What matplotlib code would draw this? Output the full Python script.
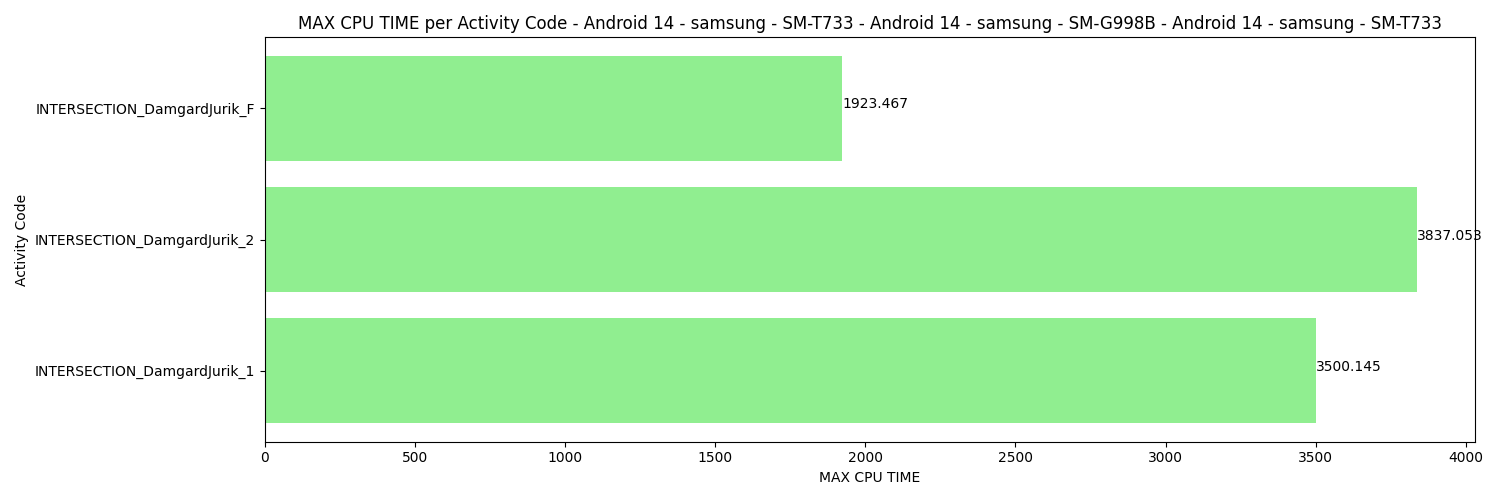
import matplotlib
matplotlib.use("Agg")
import matplotlib.pyplot as plt

# Data
activity_codes = [
    "INTERSECTION_DamgardJurik_1",
    "INTERSECTION_DamgardJurik_2",
    "INTERSECTION_DamgardJurik_F",
]
max_cpu_time = [3500.145, 3837.053, 1923.467]

title = ("MAX CPU TIME per Activity Code - Android 14 - samsung - SM-T733 - "
         "Android 14 - samsung - SM-G998B - Android 14 - samsung - SM-T733")

fig, ax = plt.subplots(figsize=(15, 5), dpi=100)
ax.barh(activity_codes, max_cpu_time, color="lightgreen")

# Value labels at the end of each bar
for i, v in enumerate(max_cpu_time):
    ax.text(v, i, str(v))

ax.set_xlabel("MAX CPU TIME")
ax.set_ylabel("Activity Code")
ax.set_title(title)

plt.tight_layout()
plt.savefig("out.png")
